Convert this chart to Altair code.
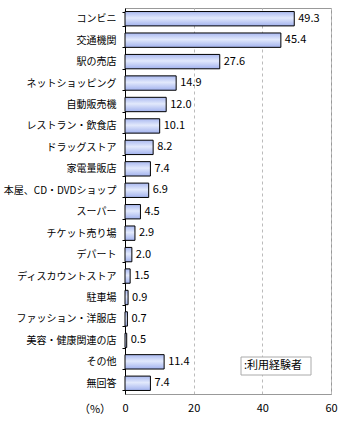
import altair as alt
import pandas as pd

categories = ["コンビニ", "交通機関", "駅の売店", "ネットショッピング", "自動販売機",
              "レストラン・飲食店", "ドラッグストア", "家電量販店", "本屋、CD・DVDショップ",
              "スーパー", "チケット売り場", "デパート", "ディスカウントストア", "駐車場",
              "ファッション・洋服店", "美容・健康関連の店", "その他", "無回答"]
values = [49.3, 45.4, 27.6, 14.9, 12.0, 10.1, 8.2, 7.4, 6.9, 4.5, 2.9, 2.0, 1.5, 0.9,
          0.7, 0.5, 11.4, 7.4]
x_ticks = [0, 20, 40, 60]
legend_label = ":利用経験者"
unit_label = "（%）"

df = pd.DataFrame({"cat": categories, "val": values})
FONT = "Noto Sans CJK JP"

y_enc = alt.Y("cat:N", sort=categories, title=None,
              scale=alt.Scale(paddingInner=0.33, paddingOuter=0.165),
              axis=alt.Axis(labelFont=FONT, labelFontSize=10, labelColor="black",
                            labelPadding=6, domainColor="black", tickColor="black",
                            tickBand="extent", tickSize=3, labelLimit=130))
x_enc = alt.X("val:Q", title=None,
              scale=alt.Scale(domain=[0, 60], nice=False),
              axis=alt.Axis(values=x_ticks, labelFont=FONT, labelFontSize=11,
                            labelColor="black", ticks=False, labelPadding=8,
                            domainColor="#999999", grid=True, gridDash=[3, 3],
                            gridColor="#bbbbbb", labelFlush=False))

bars = alt.Chart(df).mark_bar(
    stroke="black", strokeWidth=1,
    fill=alt.Gradient(gradient="linear", x1=0, y1=0, x2=0, y2=1,
                      stops=[alt.GradientStop(offset=0, color="#a9b8f0"),
                             alt.GradientStop(offset=0.45, color="#e2e9fc"),
                             alt.GradientStop(offset=1, color="#a2b2ee")])
).encode(x=x_enc, y=y_enc)

labels = alt.Chart(df).mark_text(align="left", baseline="middle", dx=4, font=FONT,
                                 fontSize=11, color="black").encode(
    x="val:Q", y=alt.Y("cat:N", sort=categories), text=alt.Text("val:Q", format=".1f"))

legend_box = alt.Chart(pd.DataFrame({"t": [legend_label]})).mark_rect(
    fill="white", stroke="#aaaaaa", strokeWidth=1).encode(
    x=alt.value(116), x2=alt.value(186), y=alt.value(349), y2=alt.value(367))
legend_text = alt.Chart(pd.DataFrame({"t": [legend_label]})).mark_text(
    align="left", baseline="middle", font=FONT, fontSize=11, color="black").encode(
    x=alt.value(119), y=alt.value(358), text="t:N")
unit_text = alt.Chart(pd.DataFrame({"t": [unit_label]})).mark_text(
    align="center", baseline="middle", font=FONT, fontSize=11, color="black").encode(
    x=alt.value(-30), y=alt.value(402), text="t:N")

chart = alt.layer(bars, labels, legend_box, legend_text, unit_text).properties(
    width=206, height=386,
    autosize=alt.AutoSizeParams(type="none"),
    padding={"left": 125, "top": 8, "right": 9, "bottom": 31},
    background="white",
).configure_view(stroke="#999999", strokeWidth=1)

chart.save("out.html", embed_options={"renderer": "svg", "actions": False})
